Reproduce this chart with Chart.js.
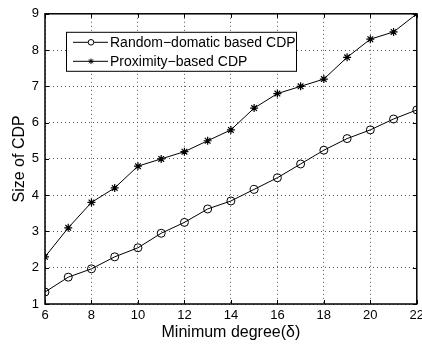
<!DOCTYPE html>
<html>
<head>
<meta charset="utf-8">
<script src="https://cdn.jsdelivr.net/npm/chart.js@4"></script>
<style>
  html, body { margin: 0; padding: 0; background: #fff; overflow: hidden; }
  #wrap { width: 422px; height: 346px; position: relative; }
</style>
</head>
<body>
<div id="wrap"><canvas id="chart-cdp"></canvas></div>
<script>
// Size of CDP vs minimum degree

const degrees = [6, 7, 8, 9, 10, 11, 12, 13, 14, 15, 16, 17, 18, 19, 20, 21, 22];
const randomDomatic = [1.33, 1.74, 1.97, 2.3, 2.55, 2.95, 3.25, 3.62, 3.84, 4.16, 4.48, 4.86, 5.24, 5.56, 5.8, 6.1, 6.35];
const proximity = [2.3, 3.1, 3.8, 4.2, 4.8, 5.0, 5.2, 5.5, 5.8, 6.4, 6.8, 7.0, 7.2, 7.8, 8.3, 8.5, 9.0];
const seriesNames = ['Random\u2212domatic based CDP', 'Proximity\u2212based CDP'];
const xTicks = [6, 8, 10, 12, 14, 16, 18, 20, 22];
const yTicks = [1, 2, 3, 4, 5, 6, 7, 8, 9];

const FONT = 'Liberation Sans, Arial, Helvetica, sans-serif';

const toPoints = (ys) => degrees.map((d, i) => ({x: d, y: ys[i]}));

// box round the plot, inward ticks and the legend, matlab style
const matlabFrame = {
  id: 'matlabFrame',
  afterDraw(chart) {
    const ctx = chart.ctx;
    const a = chart.chartArea;
    const xs = chart.scales.x, ys = chart.scales.y;
    ctx.save();
    ctx.strokeStyle = '#000';
    ctx.lineWidth = 1;
    ctx.beginPath();
    xTicks.forEach(t => {
      const px = Math.round(xs.getPixelForValue(t)) + 0.5;
      ctx.moveTo(px, a.bottom); ctx.lineTo(px, a.bottom - 4);
      ctx.moveTo(px, a.top); ctx.lineTo(px, a.top + 4);
    });
    yTicks.forEach(t => {
      const py = Math.round(ys.getPixelForValue(t)) + 0.5;
      ctx.moveTo(a.left, py); ctx.lineTo(a.left + 4, py);
      ctx.moveTo(a.right, py); ctx.lineTo(a.right - 4, py);
    });
    ctx.stroke();
    ctx.lineWidth = 1.5;
    ctx.strokeRect(a.left, a.top, a.right - a.left, a.bottom - a.top);

    // legend
    const lx = a.left + 21, ly = a.top + 18, lw = 230, lh = 39;
    ctx.fillStyle = '#fff';
    ctx.fillRect(lx, ly, lw, lh);
    ctx.lineWidth = 1;
    ctx.strokeRect(lx + 0.5, ly + 0.5, lw, lh);
    ctx.font = '14px ' + FONT;
    ctx.textBaseline = 'middle';
    chart.data.datasets.forEach((ds, i) => {
      const ry = ly + 10.5 + i * 19;
      ctx.beginPath();
      ctx.moveTo(lx + 7, ry); ctx.lineTo(lx + 42, ry);
      ctx.stroke();
      Chart.helpers.drawPoint(ctx, {pointStyle: ds.pointStyle, radius: 2.8, borderWidth: 1}, lx + 25, ry);
      ctx.fillStyle = '#000';
      ctx.fillText(ds.label, lx + 44, ry + 1);
      ctx.fillStyle = '#fff';
    });
    ctx.restore();
  }
};

const dataCdp = {
  datasets: [
    {
      label: seriesNames[0],
      data: toPoints(randomDomatic),
      borderColor: '#000',
      backgroundColor: 'rgba(255,255,255,0)',
      borderWidth: 1,
      pointStyle: 'circle',
      pointRadius: 4,
      pointBorderWidth: 1,
      tension: 0
    },
    {
      label: seriesNames[1],
      data: toPoints(proximity),
      borderColor: '#000',
      backgroundColor: '#000',
      borderWidth: 1,
      pointStyle: 'star',
      pointRadius: 4,
      pointBorderWidth: 1.2,
      tension: 0
    }
  ]
};

const configCdp = {
  type: 'line',
  data: dataCdp,
  options: {
    responsive: true,
    maintainAspectRatio: false,
    animation: false,
    layout: { padding: { top: 11, right: 4, left: 0, bottom: 0 } },
    scales: {
      x: {
        type: 'linear',
        min: 6,
        max: 22,
        afterBuildTicks: (s) => { s.ticks = xTicks.map(v => ({value: v})); },
        afterFit: (s) => { s.height = 42; s.paddingLeft = 0; s.paddingRight = 0; },
        ticks: {
          color: '#000',
          font: { family: FONT, size: 13 },
          padding: 4,
          maxRotation: 0,
          autoSkip: false
        },
        grid: { color: '#555', lineWidth: 1, drawTicks: false },
        border: { display: false, dash: [1, 3] },
        title: {
          display: true,
          text: 'Minimum degree(\u03b4)',
          color: '#000',
          font: { family: FONT, size: 16 },
          padding: { top: 0, bottom: 4 }
        }
      },
      y: {
        min: 1,
        max: 9,
        afterBuildTicks: (s) => { s.ticks = yTicks.map(v => ({value: v})); },
        afterFit: (s) => { s.width = 45; },
        ticks: {
          color: '#000',
          font: { family: FONT, size: 13 },
          padding: 6
        },
        grid: { color: '#555', lineWidth: 1, drawTicks: false },
        border: { display: false, dash: [1, 3] },
        title: {
          display: true,
          text: 'Size of CDP',
          color: '#000',
          font: { family: FONT, size: 16 },
          padding: { top: 10, bottom: 0 }
        }
      }
    },
    plugins: {
      legend: { display: false },
      tooltip: { enabled: false }
    }
  },
  plugins: [matlabFrame]
};

const chartCdp = new Chart(
  document.getElementById('chart-cdp'),
  configCdp
);
</script>
</body>
</html>
